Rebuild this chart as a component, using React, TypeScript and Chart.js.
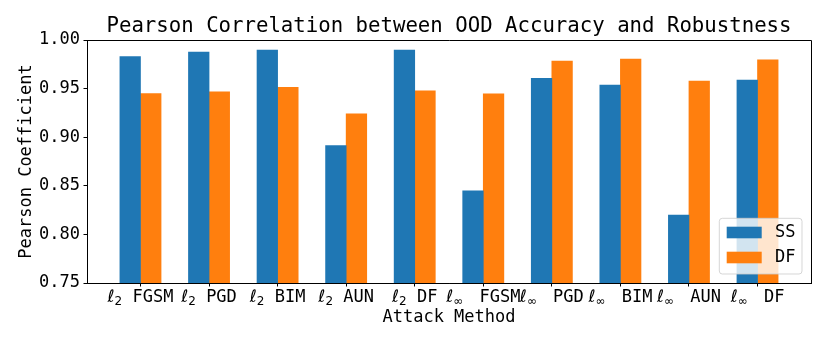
import React, { useEffect, useRef } from 'react';
import { Chart, registerables } from 'chart.js';

Chart.register(...registerables);

const normSubscripts = ['2', '2', '2', '2', '2', '∞', '∞', '∞', '∞', '∞'];
const attackNames = ['FGSM', 'PGD', 'BIM', 'AUN', 'DF', 'FGSM', 'PGD', 'BIM', 'AUN', 'DF'];
const categories = attackNames.map((n, i) => `ℓ${normSubscripts[i] === '2' ? '₂' : '∞'} ${n}`);
const ssValues = [0.983, 0.9876, 0.9897, 0.8914, 0.9897, 0.8448, 0.9605, 0.9536, 0.82, 0.9588];
const dfValues = [0.945, 0.9467, 0.9512, 0.924, 0.9478, 0.9447, 0.9784, 0.9804, 0.9577, 0.9797];
const seriesNames = ['SS', 'DF'];
const seriesColors = ['#1f77b4', '#ff7f0e'];
const yMin = 0.75;
const yMax = 1.0;
const yStep = 0.05;
const titleText = 'Pearson Correlation between OOD Accuracy and Robustness';
const xTitle = 'Attack Method';
const yTitle = 'Pearson Coefficient';

const FONT = '"DejaVu Sans Mono", monospace';

const framePlugin = {
  id: 'frame',
  afterDatasetsDraw(chart: any) {
    const { ctx, chartArea } = chart;
    const { left, right, top, bottom } = chartArea;
    ctx.save();
    ctx.strokeStyle = '#000';
    ctx.lineWidth = 1;
    ctx.beginPath();
    ctx.moveTo(left, top + 0.5);
    ctx.lineTo(right + 0.5, top + 0.5);
    ctx.lineTo(right + 0.5, bottom);
    ctx.moveTo(left, bottom + 0.5);
    ctx.lineTo(right + 0.5, bottom + 0.5);
    ctx.stroke();
    ctx.restore();
  },
};

// Draws the x tick labels with a math-style ℓ and a subscript (like matplotlib mathtext)
const mathTickPlugin = {
  id: 'mathTicks',
  afterDraw(chart: any) {
    const { ctx } = chart;
    const xs = chart.scales.x;
    const baseline = xs.top + 18.7;
    ctx.save();
    ctx.fillStyle = '#000';
    ctx.textBaseline = 'alphabetic';
    ctx.textAlign = 'left';
    attackNames.forEach((name, i) => {
      const sub = normSubscripts[i];
      const ellFont = 'italic 17px "DejaVu Sans"';
      const subFont = '12px "DejaVu Sans"';
      const monoFont = `17px ${FONT}`;
      ctx.font = ellFont;
      const wEll = ctx.measureText('ℓ').width;
      ctx.font = subFont;
      const wSub = ctx.measureText(sub).width + (sub === '∞' ? 6 : 0);
      ctx.font = monoFont;
      const wRest = ctx.measureText(' ' + name).width;
      const total = wEll + wSub + wRest;
      let x = xs.getPixelForValue(i) - total / 2;
      ctx.font = ellFont;
      ctx.fillText('ℓ', x, baseline);
      x += wEll;
      ctx.font = subFont;
      ctx.fillText(sub, x, baseline + 2.8);
      x += wSub;
      ctx.font = monoFont;
      ctx.fillText(' ' + name, x, baseline);
    });
    ctx.restore();
  },
};

const legendPlugin = {
  id: 'boxLegend',
  afterDraw(chart: any) {
    const { ctx, chartArea } = chart;
    const w = 82.7;
    const h = 55.7;
    const bx = chartArea.right - 9 - w;
    const by = chartArea.bottom - 9 - h;
    ctx.save();
    ctx.beginPath();
    (ctx as any).roundRect(bx, by, w, h, 3);
    ctx.fillStyle = 'rgba(255,255,255,0.8)';
    ctx.fill();
    ctx.strokeStyle = 'rgba(204,204,204,0.8)';
    ctx.lineWidth = 1;
    ctx.stroke();
    chart.data.datasets.forEach((ds: any, i: number) => {
      const py = by + 8.4 + i * 25;
      ctx.fillStyle = ds.backgroundColor;
      ctx.fillRect(bx + 7.4, py, 35, 11.6);
      ctx.fillStyle = '#000';
      ctx.font = `17px ${FONT}`;
      ctx.textBaseline = 'middle';
      ctx.textAlign = 'left';
      ctx.fillText(ds.label, bx + 55.7, py + 6.3);
    });
    ctx.restore();
  },
};

export default function App() {
  const ref = useRef<HTMLCanvasElement | null>(null);
  useEffect(() => {
    if (!ref.current) return;
    const values = [ssValues, dfValues];
    const offsets = [-0.15, 0.15];
    const chart = new Chart(ref.current, {
      type: 'bar',
      data: {
        labels: categories,
        datasets: values.map((vals, s) => ({
          label: seriesNames[s],
          data: vals.map((v, i) => ({ x: i + offsets[s], y: v })),
          backgroundColor: seriesColors[s],
          borderWidth: 0,
          barThickness: 20.6,
          grouped: false,
        })),
      },
      options: {
        animation: false,
        responsive: false,
        devicePixelRatio: 1,
        layout: { padding: { left: 0, right: 19, top: 0, bottom: 0 } },
        plugins: {
          legend: { display: false },
          tooltip: { enabled: false },
          title: {
            display: true,
            text: titleText,
            fullSize: false,
            color: '#000',
            font: { family: FONT, size: 20.7, weight: 'normal', lineHeight: 1.2 },
            padding: { top: 14.6, bottom: 0.56 },
          },
        },
        scales: {
          x: {
            type: 'linear',
            offset: false,
            min: -0.78,
            max: 9.78,
            afterBuildTicks: (scale: any) => {
              scale.ticks = categories.map((_, i) => ({ value: i }));
            },
            afterFit: (scale: any) => {
              scale.height = 63;
            },
            ticks: {
              display: false,
              autoSkip: false,
              maxRotation: 0,
              minRotation: 0,
              callback: (v: any) => categories[Math.round(Number(v))] ?? '',
            },
            grid: { offset: false, drawOnChartArea: false, drawTicks: true, tickLength: 3.5, color: '#000', lineWidth: 1 },
            border: { display: true, color: '#000', width: 1 },
            title: {
              display: true,
              text: xTitle,
              color: '#000',
              font: { family: FONT, size: 17, lineHeight: 1.2 },
              padding: { top: 0, bottom: 17.8 },
            },
          },
          y: {
            type: 'linear',
            min: yMin,
            max: yMax,
            afterFit: (scale: any) => {
              scale.width = 87;
            },
            ticks: {
              stepSize: yStep,
              padding: 3.5,
              color: '#000',
              font: { family: FONT, size: 17, lineHeight: 1.2 },
              callback: (v: any) => Number(v).toFixed(2),
            },
            grid: { drawOnChartArea: false, drawTicks: true, tickLength: 3.5, color: '#000', lineWidth: 1 },
            border: { display: true, color: '#000', width: 1 },
            title: {
              display: true,
              text: yTitle,
              color: '#000',
              font: { family: FONT, size: 17, lineHeight: 1.2 },
              padding: { top: 16, bottom: 0 },
            },
          },
        },
      },
      plugins: [framePlugin, mathTickPlugin, legendPlugin],
    } as any);
    return () => chart.destroy();
  }, []);
  return (
    <div style={{ position: 'absolute', left: 0, top: 0, width: 830, height: 346, background: '#fff' }}>
      <canvas ref={ref} width={830} height={346} style={{ width: 830, height: 346, display: 'block' }} />
    </div>
  );
}
